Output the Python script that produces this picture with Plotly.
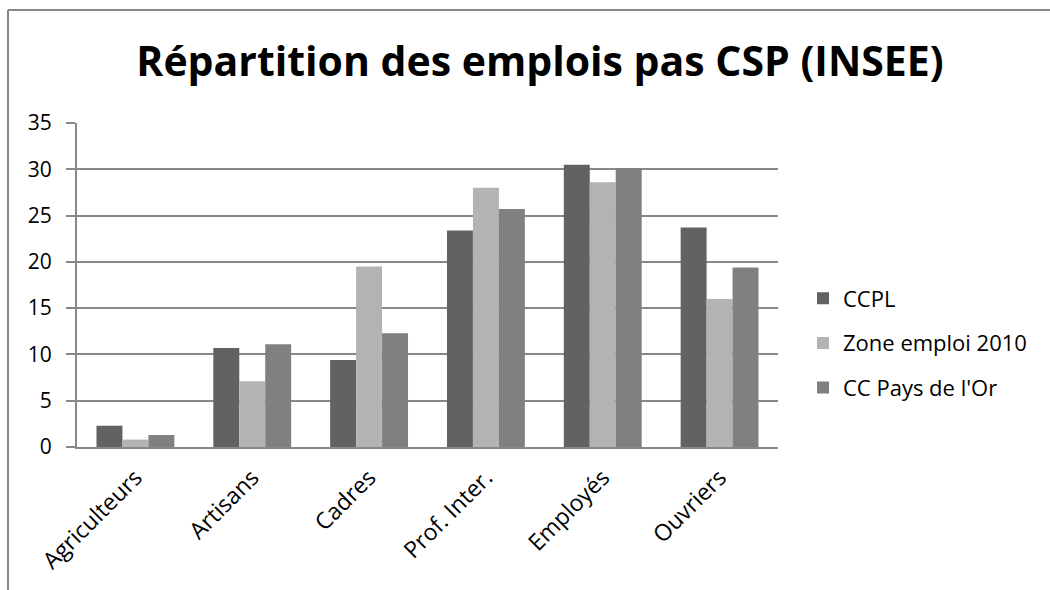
import plotly.graph_objects as go

# Socio-professional categories and employment shares (%)
categories = ["Agriculteurs", "Artisans", "Cadres", "Prof. Inter.", "Employés", "Ouvriers"]
ccpl = [2.3, 10.7, 9.4, 23.4, 30.5, 23.7]
zone_emploi_2010 = [0.8, 7.1, 19.5, 28.0, 28.6, 16.0]
cc_pays_de_lor = [1.3, 11.1, 12.3, 25.7, 30.1, 19.4]

series = [
    ("CCPL", ccpl, "#626262"),
    ("Zone emploi 2010", zone_emploi_2010, "#b3b3b3"),
    ("CC Pays de l'Or", cc_pays_de_lor, "#808080"),
]

FONT = "'Open Sans', Lato, sans-serif"
GRID = "#888888"

fig = go.Figure()
for i, (name, vals, color) in enumerate(series):
    fig.add_trace(go.Bar(
        x=categories, y=vals, name=name,
        marker=dict(color=color, line=dict(width=0)),
        legendgroup=f"g{i}",
    ))

# plot-area geometry in pixels, used to place the outer frame and legend
W, H = 1050, 590
L, R, T, B = 77, 272, 123, 143
pw, ph = W - L - R, H - T - B

def px_x(x):
    return (x - L) / pw

def px_y(y):
    return (H - B - y) / ph

fig.update_layout(
    width=W, height=H,
    margin=dict(l=L, r=R, t=T, b=B),
    paper_bgcolor="white", plot_bgcolor="white",
    font=dict(family=FONT, color="black", size=20),
    barmode="group", bargap=1.5 / 4.5, bargroupgap=0,
    title=dict(
        text="<b>Répartition des emplois pas CSP (INSEE)</b>",
        x=540 / W, xanchor="center",
        y=1 - 62 / H, yanchor="middle",
        font=dict(family=FONT, size=41, color="black"),
    ),
    legend=dict(
        x=px_x(803), xanchor="left",
        y=px_y(343), yanchor="middle",
        font=dict(size=22),
        tracegroupgap=13,
        bgcolor="rgba(0,0,0,0)",
    ),
    xaxis=dict(
        tickangle=-45, showgrid=False, showline=True,
        linecolor=GRID, linewidth=2, ticks="",
        tickfont=dict(size=23), ticklabelstandoff=6,
    ),
    yaxis=dict(
        range=[0, 35], dtick=5, showgrid=True, gridcolor=GRID, gridwidth=1.5,
        showline=True, linecolor=GRID, linewidth=2,
        ticks="outside", ticklen=9, tickcolor=GRID, tickwidth=1.5,
        tickfont=dict(size=21), zeroline=False, ticklabelstandoff=10,
    ),
    shapes=[
        dict(type="line", xref="paper", yref="paper",
             x0=px_x(8), x1=px_x(W + 5), y0=px_y(10), y1=px_y(10),
             line=dict(color=GRID, width=2)),
        dict(type="line", xref="paper", yref="paper",
             x0=px_x(8), x1=px_x(8), y0=px_y(10), y1=px_y(H + 5),
             line=dict(color=GRID, width=2)),
    ],
)

fig.write_html("out.html")
